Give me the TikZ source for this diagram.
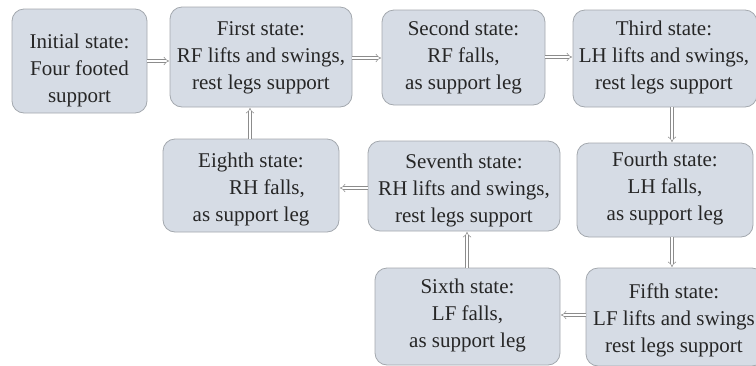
\documentclass[tikz,border=0pt]{standalone}
\usepackage{fontspec}
\setmainfont{Liberation Serif}
\usetikzlibrary{arrows.meta}
\definecolor{boxfill}{HTML}{D6DCE5}
\definecolor{boxline}{HTML}{A3A8AE}
\definecolor{arrline}{HTML}{8C8C8C}
\definecolor{txt}{HTML}{262626}
\tikzset{
  statebox/.style={draw=boxline, line width=0.8pt, fill=boxfill, rounded corners=12pt,
    inner sep=0pt},
  statetext/.style={align=center, inner sep=0pt, text=txt,
    font=\fontsize{21}{27}\selectfont},
  flow/.style={draw=arrline, line width=0.5pt, double=white, double distance=2.4pt,
    -{Implies[length=4pt]}, shorten >=0.5pt},
}
\begin{document}
\begin{tikzpicture}[x=1pt,y=-1pt]
\useasboundingbox (0,0) rectangle (756,365);
\node[statebox, minimum width=135pt, minimum height=104pt] (s0) at (79.5,61) {};
\node[statetext] (t0) at (79.5,70) {Initial state:\\Four footed\\support};
\node[statebox, minimum width=182pt, minimum height=100pt] (s1) at (261,57) {};
\node[statetext] (t1) at (261,58) {First state:\\RF lifts and swings,\\rest legs support};
\node[statebox, minimum width=163pt, minimum height=95pt] (s2) at (463.5,57.5) {};
\node[statetext] (t2) at (463.5,57.5) {Second state:\\RF falls,\\as support leg};
\node[statebox, minimum width=184pt, minimum height=97pt] (s3) at (665,58.5) {};
\node[statetext] (t3) at (664,57.5) {Third state:\\LH lifts and swings,\\rest legs support};
\node[statebox, minimum width=176pt, minimum height=94pt] (s4) at (665,190) {};
\node[statetext] (t4) at (665,188) {Fourth state:\\LH falls,\\as support leg};
\node[statebox, minimum width=178pt, minimum height=98pt] (s5) at (675,317) {};
\node[statetext] (t5) at (674,320) {Fifth state:\\LF lifts and swings\\rest legs support};
\node[statebox, minimum width=185pt, minimum height=97pt] (s6) at (467.5,316.5) {};
\node[statetext] (t6) at (467.5,315.5) {Sixth state:\\LF falls,\\as support leg};
\node[statebox, minimum width=192pt, minimum height=90pt] (s7) at (464,186) {};
\node[statetext] (t7) at (464,190) {Seventh state:\\RH lifts and swings,\\rest legs support};
\node[statebox, minimum width=176pt, minimum height=93pt] (s8) at (251,185.5) {};
\node[statetext] (t8) at (251,189) {Eighth state:\\\hspace*{32pt}RH falls,\\as support leg};
\draw[flow] (s0.east |- 0,61) -- (s1.west |- 0,61);
\draw[flow] (s1.east |- 0,58) -- (s2.west |- 0,58);
\draw[flow] (s2.east |- 0,57) -- (s3.west |- 0,57);
\draw[flow] (s3.south -| 672,0) -- (s4.north -| 672,0);
\draw[flow] (s4.south -| 672,0) -- (s5.north -| 672,0);
\draw[flow] (s5.west |- 0,315) -- (s6.east |- 0,315);
\draw[flow] (s6.north -| 467,0) -- (s7.south -| 467,0);
\draw[flow] (s7.west |- 0,188) -- (s8.east |- 0,188);
\draw[flow] (s8.north -| 250,0) -- (s1.south -| 250,0);
\end{tikzpicture}
\end{document}
